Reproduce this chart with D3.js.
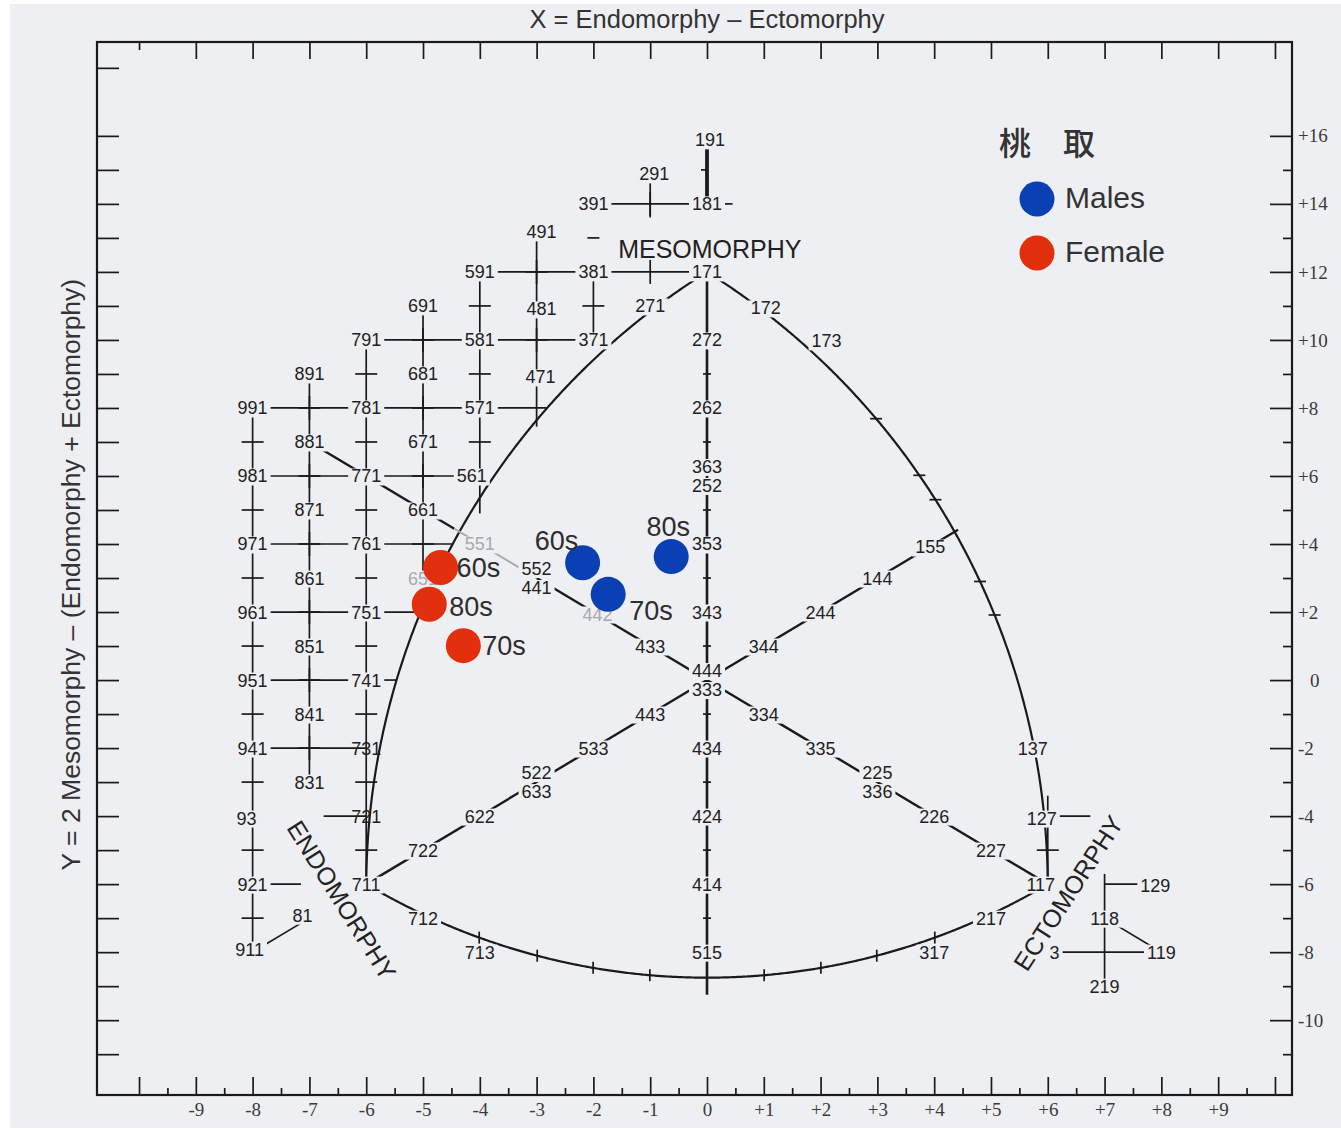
<!DOCTYPE html>
<html>
<head>
<meta charset="utf-8">
<title>Somatochart</title>
<script src="https://cdn.jsdelivr.net/npm/d3@7/dist/d3.min.js"></script>
<style>
  html, body { margin: 0; padding: 0; background: #ffffff; }
  svg { display: block; }
</style>
</head>
<body>
<svg id="chart" width="1341" height="1133"></svg>
<script>
// ---------------- axes ----------------
const xExtent = [-10.74, 10.30];
const yExtent = [-12.2, 18.76];
const xLabelledTicks = [-9, -8, -7, -6, -5, -4, -3, -2, -1, 0, 1, 2, 3, 4, 5, 6, 7, 8, 9];
const xTickLabels = ["-9", "-8", "-7", "-6", "-5", "-4", "-3", "-2", "-1", "0", "+1", "+2", "+3", "+4", "+5", "+6", "+7", "+8", "+9"];
const yLabelledTicks = [16, 14, 12, 10, 8, 6, 4, 2, 0, -2, -4, -6, -8, -10];
const yTickLabels = ["+16", "+14", "+12", "+10", "+8", "+6", "+4", "+2", "0", "-2", "-4", "-6", "-8", "-10"];

// ---------------- survey means by decade ----------------
const decades = ["60s", "70s", "80s"];
const malesX = [-2.19, -1.74, -0.63];
const malesY = [3.45, 2.52, 3.63];
const femaleX = [-4.69, -4.29, -4.89];
const femaleY = [3.31, 1.01, 2.23];
const seriesNames = ["Males", "Female"];
const legendTitle = "桃　取";

// ---------------- somatochart template ----------------
// reference somatotypes (endo-meso-ecto) printed on the chart
const gridLabels = ["191", "291", "391", "181", "491", "591", "381", "171", "691", "481", "271", "172",
  "791", "581", "371", "272", "173", "891", "681", "471", "991", "781", "571", "262",
  "881", "671", "981", "771", "561", "363", "252", "871", "661", "971", "761", "551", "353", "155",
  "861", "651", "552", "441", "144", "961", "751", "442", "343", "244", "851", "433", "344",
  "951", "741", "444", "333", "841", "443", "334", "941", "731", "533", "434", "335", "137",
  "831", "522", "633", "225", "336", "931", "721", "622", "424", "226", "127",
  "722", "227", "921", "711", "414", "117", "129", "811", "712", "217", "118",
  "911", "713", "515", "317", "119", "219"];
// labels printed where the sheet puts them rather than where the formula would
const printedAt = { "433": [-1, 1], "443": [-1, -1] };
// labels clipped on the printed sheet
const shownAs = { "931": "93", "811": "81" };
const stackedUpper = ["363", "552", "444", "522", "225"];
const stackedLower = ["252", "441", "333", "633", "336"];
const fadedLabels = ["551", "651", "442"];
const strayMarks = [{ text: "3", at: [6.12, -8] }];

// ruled links between neighbouring reference somatotypes (a tick marks the half-way point)
const gridLinks = [
  ["191", "181"], ["391", "181"], ["591", "381"], ["381", "171"],
  ["791", "581"], ["581", "371"], ["991", "781"], ["781", "571"],
  ["981", "771"], ["771", "561"], ["971", "761"], ["961", "751"], ["951", "741"], ["941", "731"],
  ["381", "371"], ["491", "481"], ["481", "471"],
  ["591", "581"], ["581", "571"], ["571", "561"],
  ["691", "681"], ["681", "671"], ["671", "661"], ["661", "651"],
  ["791", "781"], ["781", "771"], ["771", "761"], ["761", "751"], ["751", "741"], ["741", "731"], ["731", "721"], ["721", "711"],
  ["891", "881"], ["881", "871"], ["871", "861"], ["861", "851"], ["851", "841"], ["841", "831"],
  ["991", "981"], ["981", "971"], ["971", "961"], ["961", "951"], ["951", "941"], ["941", "931"], ["931", "921"], ["921", "911"],
  ["127", "117"]
];
// partial rulings (chart coordinates)
const gridStubs = [
  [[-1, 15], [-1, 13.6]], [[-3, 9], [-3, 7.45]], [[-4, 8], [-2.83, 8]], [[-4, 6], [-4, 4.9]],
  [[-6, 4], [-4.49, 4]], [[-6, 2], [-5.05, 2]], [[-6, 0], [-5.46, 0]],
  [[-6.75, -4], [-6, -4]], [[-8, -6], [-7.15, -6]], [[-8, -8], [-7, -7]],
  [[0, 14], [0.45, 14]], [[6, -3.4], [6, -4]], [[6, -4], [6.75, -4]],
  [[7, -5.7], [7, -7]], [[7, -6], [7.65, -6]], [[6.12, -8], [8, -8]], [[7, -7], [7, -9]], [[7, -7], [8, -8]]
];
const looseTicks = [[-2, 13]];

// the three boundary arcs: start, a point on the arc, end
const boundaryArcs = [
  [[0, 12], [-5.05, 1.97], [-6, -6]],
  [[0, 12], [5.05, 1.97], [6, -6]],
  [[-6, -6], [0, -8.75], [6, -6]]
];
const bottomArcTicks = [-4, -3, -2, -1, 1, 2, 3, 4];
const rightArcTicks = [7.7, 6, 5.3, 2.9, 1.9];
const centreAxis = [[0, 12], [0, -9.25]];
const centreAxisTicks = [9, 7, 5, 3, 1, -1, -3, -5, -7];
const spokes = [
  [[0, 0], [-3, 3]], [[-4.45, 4.45], [-7, 7]],
  [[0, 0], [-6, -6]], [[0, 0], [4.42, 4.42]], [[0, 0], [6, -6]]
];
const fadedSpokes = [[[-3, 3], [-4.45, 4.45]]];
const regionNames = [
  { text: "MESOMORPHY", at: [0.05, 12.68], angle: 0 },
  { text: "ENDOMORPHY", at: [-6.43, -6.47], angle: 58 },
  { text: "ECTOMORPHY", at: [6.36, -6.26], angle: -57 }
];

// ---------------- drawing ----------------
const svg = d3.select("#chart");
const frame = { left: 97, right: 1292, top: 42, bottom: 1095 };
const x = d3.scaleLinear().domain(xExtent).range([frame.left, frame.right]);
const y = d3.scaleLinear().domain(yExtent).range([frame.bottom, frame.top]);
const pt = d => [x(d[0]), y(d[1])];

const paper = "#eeeff3", ink = "#1a1a1a", faded = "#a8a8ad", textInk = "#222";
const sans = "'Liberation Sans', Arial, sans-serif";
const serif = "'Liberation Serif', 'Times New Roman', serif";
const colours = { Males: "#0b3fb4", Female: "#e2300f" };

svg.append("rect").attr("x", 10).attr("y", 4).attr("width", 1331).attr("height", 1124).attr("fill", paper);

function tidy(g) {
  g.select(".domain").remove();
  g.selectAll(".tick line").attr("stroke", ink).attr("stroke-width", 1.7);
}
function serifText(g) {
  g.selectAll("text").attr("font-family", serif).attr("font-size", 19).attr("fill", "#3a3a3a");
}

// bottom scale
svg.append("g").attr("transform", `translate(0,${frame.bottom})`)
  .call(d3.axisBottom(x).tickValues(d3.range(-10, 11)).tickSizeInner(-18).tickSizeOuter(0).tickPadding(8)
    .tickFormat(d => { const i = xLabelledTicks.indexOf(d); return i < 0 ? "" : xTickLabels[i]; }))
  .call(tidy).call(serifText);
svg.append("g").attr("transform", `translate(0,${frame.bottom})`)
  .call(d3.axisBottom(x).tickValues(d3.range(-9.5, 10.5, 1)).tickSizeInner(-7).tickSizeOuter(0).tickFormat(""))
  .call(tidy);

// right scale
svg.append("g").attr("transform", `translate(${frame.right},0)`)
  .call(d3.axisRight(y).tickValues(yLabelledTicks).tickSizeInner(-22).tickSizeOuter(0).tickPadding(6)
    .tickFormat((d, i) => yTickLabels[i]))
  .call(tidy).call(serifText)
  .call(g => g.selectAll("text").attr("dx", d => d === 0 ? 12 : 0));
svg.append("g").attr("transform", `translate(${frame.right},0)`)
  .call(d3.axisRight(y).tickValues(d3.range(-11, 16, 2)).tickSizeInner(-9).tickSizeOuter(0).tickFormat(""))
  .call(tidy);

// left scale
svg.append("g").attr("transform", `translate(${frame.left},0)`)
  .call(d3.axisLeft(y).tickValues(d3.range(-11, 17).concat([18])).tickSizeInner(-22).tickSizeOuter(0).tickFormat(""))
  .call(tidy);

// top scale
svg.append("g").attr("transform", `translate(0,${frame.top})`)
  .call(d3.axisTop(x).tickValues(d3.range(-9, 11)).tickSizeInner(-17).tickSizeOuter(0).tickFormat(""))
  .call(tidy);
svg.append("g").attr("transform", `translate(0,${frame.top})`)
  .call(d3.axisTop(x).tickValues([-10]).tickSizeInner(-8).tickSizeOuter(0).tickFormat(""))
  .call(tidy);

svg.append("rect")
  .attr("x", frame.left).attr("y", frame.top)
  .attr("width", frame.right - frame.left).attr("height", frame.bottom - frame.top)
  .attr("fill", "none").attr("stroke", ink).attr("stroke-width", 2.2);

// axis titles
svg.append("text").attr("x", x(0)).attr("y", 28).attr("text-anchor", "middle")
  .attr("font-family", sans).attr("font-size", 25.5).attr("fill", "#333")
  .text("X = Endomorphy – Ectomorphy");
svg.append("text").attr("transform", `translate(80,${y(3.1)}) rotate(-90)`).attr("text-anchor", "middle")
  .attr("font-family", sans).attr("font-size", 26.5).attr("fill", "#333")
  .text("Y = 2 Mesomorphy – (Endomorphy + Ectomorphy)");

// ---------------- template geometry ----------------
function somatoXY(code) {
  if (printedAt[code]) return printedAt[code];
  const [en, me, ec] = code.split("").map(Number);
  return [ec - en, 2 * me - en - ec];
}
function circleThrough(a, b, c) {
  const d = 2 * (a[0] * (b[1] - c[1]) + b[0] * (c[1] - a[1]) + c[0] * (a[1] - b[1]));
  const sa = a[0] ** 2 + a[1] ** 2, sb = b[0] ** 2 + b[1] ** 2, sc = c[0] ** 2 + c[1] ** 2;
  const cx = (sa * (b[1] - c[1]) + sb * (c[1] - a[1]) + sc * (a[1] - b[1])) / d;
  const cy = (sa * (c[0] - b[0]) + sb * (a[0] - c[0]) + sc * (b[0] - a[0])) / d;
  return { cx, cy, r: Math.hypot(a[0] - cx, a[1] - cy) };
}
function arcPoints(arc, n = 400) {
  const [a, b, c] = arc.map(pt);
  const C = circleThrough(a, b, c);
  const t1 = Math.atan2(a[1] - C.cy, a[0] - C.cx);
  const wrap = t => { while (t - t1 > Math.PI) t -= 2 * Math.PI; while (t - t1 < -Math.PI) t += 2 * Math.PI; return t; };
  const t3 = wrap(Math.atan2(c[1] - C.cy, c[0] - C.cx));
  return d3.range(n + 1).map(i => {
    const t = t1 + (t3 - t1) * i / n;
    return [C.cx + C.r * Math.cos(t), C.cy + C.r * Math.sin(t)];
  });
}

const lines = svg.append("g").attr("fill", "none").attr("stroke", ink).attr("stroke-linecap", "butt");
const seg = (g, a, b) => g.append("line")
  .attr("x1", a[0]).attr("y1", a[1]).attr("x2", b[0]).attr("y2", b[1]);

// boundary arcs
const arcSamples = boundaryArcs.map(a => arcPoints(a));
arcSamples.forEach(p => lines.append("path").attr("d", d3.line()(p)).attr("stroke-width", 2.2));
bottomArcTicks.forEach(v => {
  const px = x(v);
  const p = d3.least(arcSamples[2], q => Math.abs(q[0] - px));
  seg(lines, [p[0], p[1] - 6], [p[0], p[1] + 6]).attr("stroke-width", 1.7);
});
rightArcTicks.forEach(v => {
  const py = y(v);
  const p = d3.least(arcSamples[1], q => Math.abs(q[1] - py));
  seg(lines, [p[0] - 6, p[1]], [p[0] + 6, p[1]]).attr("stroke-width", 1.7);
});

// centre line and spokes
seg(lines, pt(centreAxis[0]), pt(centreAxis[1])).attr("stroke-width", 2.6);
centreAxisTicks.forEach(v => seg(lines, [x(0) - 4, y(v)], [x(0) + 4, y(v)]).attr("stroke-width", 1.7));
spokes.forEach(s => seg(lines, pt(s[0]), pt(s[1])).attr("stroke-width", 2.4));
fadedSpokes.forEach(s => seg(lines, pt(s[0]), pt(s[1])).attr("stroke-width", 2).attr("stroke", faded));

// reference grid
gridLinks.forEach(([p, q]) => {
  const a = pt(somatoXY(p)), b = pt(somatoXY(q));
  const heavy = p === "191";
  seg(lines, a, b).attr("stroke-width", heavy ? 3.8 : 1.7);
  const m = [(a[0] + b[0]) / 2, (a[1] + b[1]) / 2];
  const vertical = Math.abs(a[0] - b[0]) < 1;
  if (vertical) seg(lines, [m[0] - (heavy ? 6 : 11), m[1]], [m[0] + (heavy ? 0 : 11), m[1]]).attr("stroke-width", 1.7);
  else seg(lines, [m[0], m[1] - 12], [m[0], m[1] + 12]).attr("stroke-width", 1.7);
});
gridStubs.forEach(([a, b]) => seg(lines, pt(a), pt(b)).attr("stroke-width", 1.7));
looseTicks.forEach(t => { const p = pt(t); seg(lines, [p[0] - 6, p[1]], [p[0] + 6, p[1]]).attr("stroke-width", 1.7); });

// reference somatotype labels, each cut out of the rulings beneath it
const labelNudge = {
  "137": [-15, 0], "127": [-6, 2], "117": [-7, 0], "129": [-6, 1], "561": [-8, 0], "155": [-4, 3],
  "173": [6, 1], "172": [2, 2], "442": [4, 2], "931": [-6, 2], "811": [-7, -3], "911": [-3, -3],
  "191": [3, 4], "291": [4, 4], "491": [5, -6], "481": [5, 3], "471": [4, 3]
};
const unmasked = ["721", "731"];
const labelLayer = svg.append("g").attr("font-family", sans).attr("font-size", 18);
function placeLabel(text, p, colour, mask) {
  const g = labelLayer.append("g");
  const r = g.append("rect").attr("fill", paper);
  const t = g.append("text").attr("x", p[0]).attr("y", p[1]).attr("dy", "0.36em")
    .attr("text-anchor", "middle").attr("fill", colour).text(text);
  if (mask) {
    const bb = t.node().getBBox();
    r.attr("x", bb.x - 3).attr("y", bb.y + 2).attr("width", bb.width + 6).attr("height", bb.height - 3);
  } else r.remove();
}
gridLabels.forEach(code => {
  const p = pt(somatoXY(code));
  const n = labelNudge[code] || [0, 0];
  const dy = stackedUpper.includes(code) ? -9.5 : stackedLower.includes(code) ? 9.5 : 0;
  placeLabel(shownAs[code] || code, [p[0] + n[0], p[1] + n[1] + dy],
    fadedLabels.includes(code) ? faded : textInk, !unmasked.includes(code));
});
strayMarks.forEach(s => placeLabel(s.text, pt(s.at), textInk, true));

// region names
regionNames.forEach(r => {
  const p = pt(r.at);
  svg.append("text").attr("transform", `translate(${p[0]},${p[1]}) rotate(${r.angle})`)
    .attr("text-anchor", "middle").attr("dy", "0.36em")
    .attr("font-family", sans).attr("font-size", 25).attr("fill", textInk).text(r.text);
});

// ---------------- survey points ----------------
const pointLabelPlacement = {
  Males: [{ dx: -26, dy: -22, anchor: "middle" }, { dx: 21, dy: 16, anchor: "start" }, { dx: -3, dy: -30, anchor: "middle" }],
  Female: [{ dx: 16, dy: 0, anchor: "start" }, { dx: 19, dy: 0, anchor: "start" }, { dx: 20, dy: 2, anchor: "start" }]
};
const series = [
  { name: "Males", xs: malesX, ys: malesY },
  { name: "Female", xs: femaleX, ys: femaleY }
];
const dotR = 17.5;
series.forEach(s => {
  const rows = decades.map((d, i) => ({ decade: d, X: s.xs[i], Y: s.ys[i], place: pointLabelPlacement[s.name][i] }));
  const g = svg.append("g");
  g.selectAll("circle").data(rows).join("circle")
    .attr("cx", d => x(d.X)).attr("cy", d => y(d.Y)).attr("r", dotR).attr("fill", colours[s.name]);
  g.selectAll("text").data(rows).join("text")
    .attr("x", d => x(d.X) + d.place.dx).attr("y", d => y(d.Y) + d.place.dy).attr("dy", "0.36em")
    .attr("text-anchor", d => d.place.anchor)
    .attr("font-family", sans).attr("font-size", 27).attr("fill", "#2d2d2d")
    .text(d => d.decade);
});

// ---------------- legend ----------------
const legend = svg.append("g");
legend.append("text").attr("x", 999).attr("y", 143).attr("dy", "0.36em")
  .attr("font-family", "'Noto Sans CJK JP', 'Noto Sans CJK SC', sans-serif").attr("font-size", 32)
  .attr("font-weight", 500).attr("fill", "#333").text(legendTitle);
seriesNames.forEach((name, i) => {
  const cy = 199 + i * 54;
  legend.append("circle").attr("cx", 1037).attr("cy", cy).attr("r", dotR).attr("fill", colours[name]);
  legend.append("text").attr("x", 1065).attr("y", cy - 2).attr("dy", "0.36em")
    .attr("font-family", sans).attr("font-size", 30).attr("fill", "#333").text(name);
});
</script>
</body>
</html>
